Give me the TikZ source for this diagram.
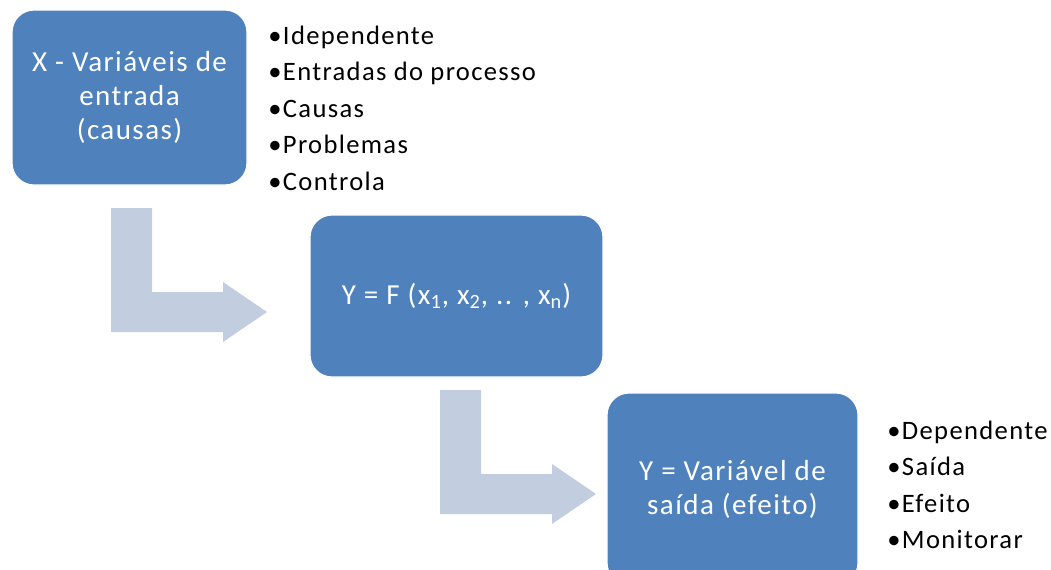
\documentclass[tikz,border=0pt]{standalone}
\usepackage{fontspec}
\setmainfont{Carlito}[LetterSpace=5]
\definecolor{boxblue}{HTML}{4F81BD}
\definecolor{arrowblue}{HTML}{C3CDE0}
\tikzset{
  varbox/.style={fill=boxblue, draw=white, line width=0.6pt, rounded corners=11pt,
    text=white, align=center, font=\fontsize{14.5}{17}\selectfont},
  item/.style={anchor=base west, inner sep=0pt, font=\fontsize{13.3}{16}\selectfont},
  bent/.style={fill=arrowblue}
}
\begin{document}
\begin{tikzpicture}[x=0.5pt, y=-0.5pt]
\useasboundingbox (0,0) rectangle (1051,569);
\clip (0,0) rectangle (1051,569);
\fill[bent] (111,208) -- (152,208) -- (152,292) -- (223,292) -- (223,282) -- (267,312)
  -- (223,342) -- (223,332) -- (111,332) -- cycle;
\fill[bent] (440,390) -- (481,390) -- (481,474) -- (552,474) -- (552,464) -- (596,494)
  -- (552,524) -- (552,514) -- (440,514) -- cycle;
\node[varbox, minimum width=117.5pt, minimum height=87.5pt] (xin) at (129.5,97.5) {X - Variáveis de\\entrada\\(causas)};
\node[varbox, minimum width=146.5pt, minimum height=81pt] (fx) at (456.5,296) {Y = F (x\textsubscript{1}, x\textsubscript{2}, .. , x\textsubscript{n})};
\node[varbox, minimum width=125.5pt, minimum height=96pt] (yout) at (732.5,489) {Y = Variável de\\saída (efeito)};
\foreach \t [count=\i] in {Idependente, Entradas do processo, Causas, Problemas, Controla}
  \node[item] (xi\i) at (268, 44+36.5*\i-36.5) {•\t};
\foreach \t [count=\i] in {Dependente, Saída, Efeito, Monitorar}
  \node[item] (yi\i) at (887, 439+36.5*\i-36.5) {•\t};
\end{tikzpicture}
\end{document}
